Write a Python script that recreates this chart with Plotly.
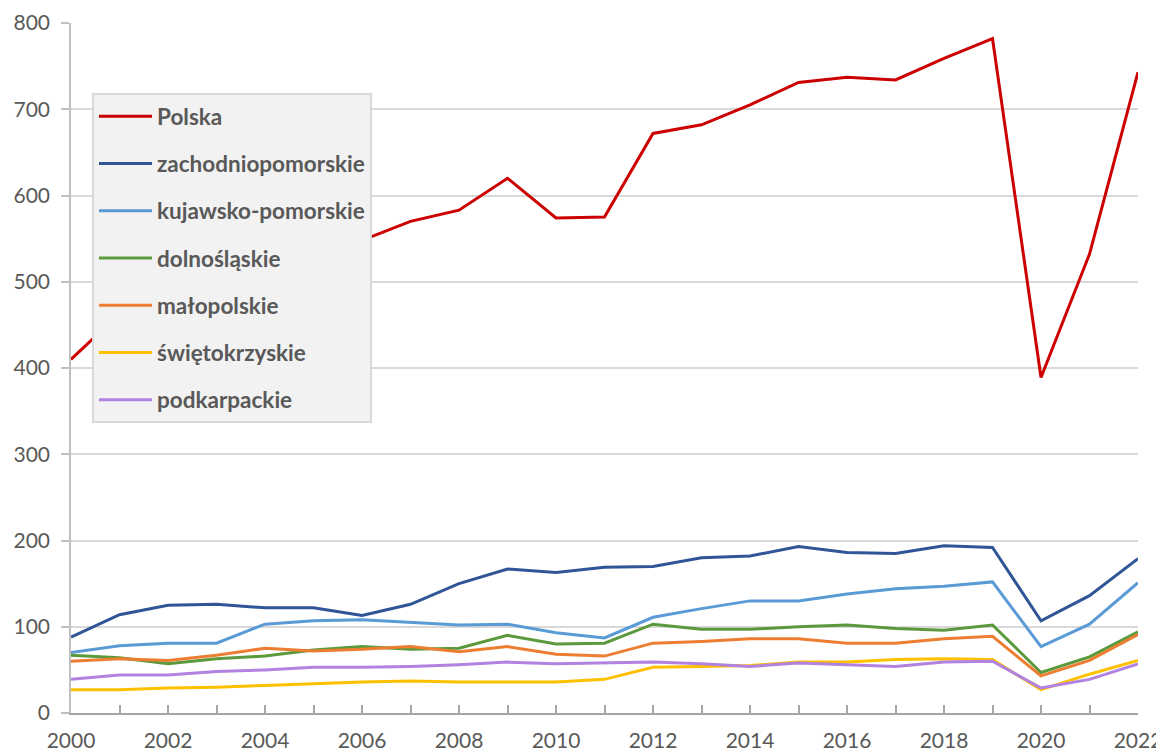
import plotly.graph_objects as go

years = list(range(2000, 2023))
series_names = ["Polska", "zachodniopomorskie", "kujawsko-pomorskie", "dolnośląskie",
                "małopolskie", "świętokrzyskie", "podkarpackie"]

polska = [410, 463, 490, 505, 520, 535, 548, 570, 583, 620, 574, 575, 672, 682, 705, 731,
          737, 734, 759, 782, 389, 532, 743]
zachodniopomorskie = [88, 114, 125, 126, 122, 122, 113, 126, 150, 167, 163, 169, 170, 180, 182, 193,
                      186, 185, 194, 192, 107, 136, 179]
kujawsko_pomorskie = [70, 78, 81, 81, 103, 107, 108, 105, 102, 103, 93, 87, 111, 121, 130, 130,
                      138, 144, 147, 152, 77, 103, 151]
dolnoslaskie = [67, 64, 57, 63, 66, 73, 77, 74, 75, 90, 80, 81, 103, 97, 97, 100,
                102, 98, 96, 102, 47, 65, 94]
malopolskie = [60, 63, 61, 67, 75, 72, 74, 77, 71, 77, 68, 66, 81, 83, 86, 86,
               81, 81, 86, 89, 43, 61, 91]
swietokrzyskie = [27, 27, 29, 30, 32, 34, 36, 37, 36, 36, 36, 39, 53, 54, 55, 59,
                  59, 62, 63, 62, 27, 45, 61]
podkarpackie = [39, 44, 44, 48, 50, 53, 53, 54, 56, 59, 57, 58, 59, 57, 54, 58,
                56, 54, 59, 60, 29, 39, 57]

values = [polska, zachodniopomorskie, kujawsko_pomorskie, dolnoslaskie,
          malopolskie, swietokrzyskie, podkarpackie]
colors = ["#cc0000", "#2f5597", "#5b9bd5", "#5b9a3c", "#ed7d31", "#ffc000", "#b182e0"]

tick_labels = [str(y) if y % 2 == 0 else "" for y in years]
y_ticks = list(range(0, 801, 100))

fig = go.Figure()
for name, vals, col in zip(series_names, values, colors):
    fig.add_trace(go.Scatter(
        x=years, y=vals, mode="lines", name=name, legendgroup=name,
        line=dict(color=col, width=3),
    ))

# page body has an 8px margin: plot area spans screen x 71..1138, y 23..713
fig.update_layout(
    width=1156, height=746,
    margin=dict(l=63, r=26, t=15, b=41),
    paper_bgcolor="white", plot_bgcolor="white",
    font=dict(family="Lato", size=21, color="#595959"),
    showlegend=True,
    legend=dict(
        x=(92 - 71) / (1138 - 71), y=(713 - 93) / (713 - 23),
        xanchor="left", yanchor="top",
        bgcolor="#f2f2f2", bordercolor="#d9d9d9", borderwidth=2,
        font=dict(family="Lato", size=22.5, color="#595959", weight="bold"),
        tracegroupgap=15, itemwidth=53,
    ),
    xaxis=dict(
        range=[2000, 2022], tickmode="array", tickvals=years, ticktext=tick_labels,
        ticks="inside", ticklen=8, tickcolor="#a6a6a6", tickwidth=2,
        showline=True, linecolor="#a6a6a6", linewidth=2,
        showgrid=False, zeroline=False, automargin=False,
        ticklabelstandoff=8,
        tickfont=dict(family="Lato", size=21, color="#595959"),
    ),
    yaxis=dict(
        range=[0, 800], tickmode="array", tickvals=y_ticks,
        ticks="outside", ticklen=8, tickcolor="#bfbfbf", tickwidth=1.5,
        showline=True, linecolor="#bfbfbf", linewidth=1.5,
        showgrid=True, gridcolor="#d9d9d9", gridwidth=2, zeroline=False,
        automargin=False, ticklabelstandoff=7,
        tickfont=dict(family="Lato", size=21, color="#595959"),
    ),
)

fig.write_html("out.html")
